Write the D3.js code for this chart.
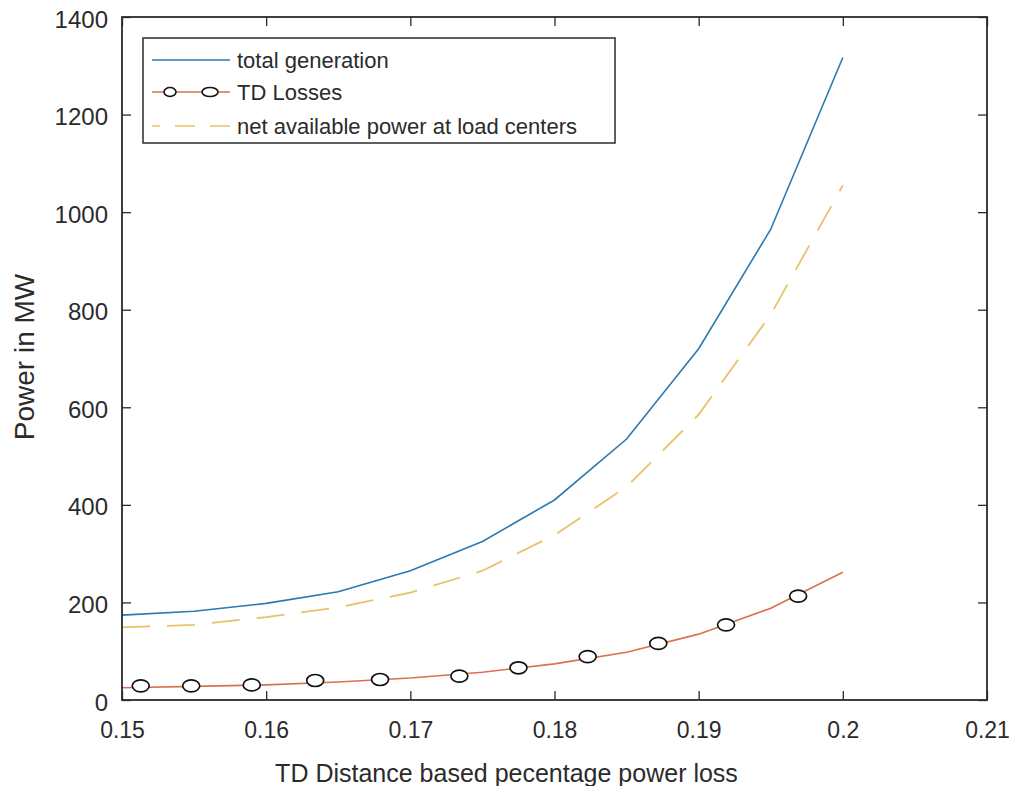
<!DOCTYPE html>
<html>
<head>
<meta charset="utf-8">
<script src="https://cdn.jsdelivr.net/npm/d3@7"></script>
<style>
  body { margin: 0; background: #fff; }
  text { font-family: "Liberation Sans", Arial, sans-serif; fill: #2b2b2b; }
</style>
</head>
<body>
<div id="chart"></div>
<script>
// values
const xValues = [0.15, 0.155, 0.16, 0.165, 0.17, 0.175, 0.18, 0.185, 0.19, 0.195, 0.2];
const totalGeneration = [174, 182, 198, 222, 265, 325, 410, 535, 720, 965, 1317];
const tdLosses = [25, 28, 31, 37, 45, 57, 74, 98, 135, 188, 262];
const netAvailable = [149, 154, 170, 190, 220, 265, 338, 437, 585, 790, 1055];

// the circle markers on the loss curve do not sit on the data x values
const markerX = [0.1513, 0.1548, 0.159, 0.1634, 0.1679, 0.1734, 0.1775, 0.1823, 0.1872, 0.1919, 0.1969];
const markerY = [29, 29, 31, 40, 42, 49, 66, 89, 116, 154, 213];

const xTicks = [0.15, 0.16, 0.17, 0.18, 0.19, 0.2, 0.21];
const yTicks = [0, 200, 400, 600, 800, 1000, 1200, 1400];

const seriesNames = ["total generation", "TD Losses", "net available power at load centers"];

const width = 1016;
const height = 786;
const plot = { left: 122, right: 987, top: 17, bottom: 700 };

const blue = "#2c78b0";
const orange = "#d8714f";
const yellow = "#e8c266";
const axisColor = "#2b2b2b";

const svg = d3.select("#chart")
  .append("svg")
  .attr("width", width)
  .attr("height", height);

////////////// Scales //////////////
const x = d3.scaleLinear().domain([0.15, 0.21]).range([plot.left, plot.right]);
const y = d3.scaleLinear().domain([0, 1400]).range([plot.bottom, plot.top]);

const line = d3.line()
  .x((d, i) => x(xValues[i]))
  .y(d => y(d));

////////////// Curves //////////////
svg.append("path")
  .attr("d", line(totalGeneration))
  .attr("fill", "none")
  .attr("stroke", blue)
  .attr("stroke-width", 1.6);

svg.append("path")
  .attr("d", line(netAvailable))
  .attr("fill", "none")
  .attr("stroke", yellow)
  .attr("stroke-width", 1.8)
  .attr("stroke-dasharray", "28,17");

svg.append("path")
  .attr("d", line(tdLosses))
  .attr("fill", "none")
  .attr("stroke", orange)
  .attr("stroke-width", 1.6);

svg.selectAll(".marker")
  .data(markerX)
  .join("ellipse")
    .attr("class", "marker")
    .attr("cx", d => x(d))
    .attr("cy", (d, i) => y(markerY[i]))
    .attr("rx", 8.5)
    .attr("ry", 6)
    .attr("fill", "#fff")
    .attr("stroke", "#111")
    .attr("stroke-width", 1.7);

////////////// Axes //////////////
const tickLen = 9;

svg.append("g")
  .attr("transform", `translate(0,${plot.bottom})`)
  .call(d3.axisBottom(x).tickValues(xTicks).tickSize(-tickLen).tickPadding(22)
    .tickFormat(d => String(+d.toFixed(2))))
  .call(g => g.select(".domain").remove())
  .call(g => g.selectAll("line").attr("stroke", axisColor).attr("stroke-width", 1.3))
  .call(g => g.selectAll("text").attr("font-size", 23).attr("fill", "#383838"));

svg.append("g")
  .attr("transform", `translate(0,${plot.top})`)
  .call(d3.axisTop(x).tickValues(xTicks).tickSize(-tickLen).tickFormat(""))
  .call(g => g.select(".domain").remove())
  .call(g => g.selectAll("line").attr("stroke", axisColor).attr("stroke-width", 1.3));

svg.append("g")
  .attr("transform", `translate(${plot.left},0)`)
  .call(d3.axisLeft(y).tickValues(yTicks).tickSize(-tickLen).tickPadding(14)
    .tickFormat(d3.format("d")))
  .call(g => g.select(".domain").remove())
  .call(g => g.selectAll("line").attr("stroke", axisColor).attr("stroke-width", 1.3))
  .call(g => g.selectAll("text").attr("font-size", 24).attr("fill", "#383838").attr("dy", "0.42em"));

svg.append("g")
  .attr("transform", `translate(${plot.right},0)`)
  .call(d3.axisRight(y).tickValues(yTicks).tickSize(-tickLen).tickFormat(""))
  .call(g => g.select(".domain").remove())
  .call(g => g.selectAll("line").attr("stroke", axisColor).attr("stroke-width", 1.3));

svg.append("rect")
  .attr("x", plot.left)
  .attr("y", plot.top)
  .attr("width", plot.right - plot.left)
  .attr("height", plot.bottom - plot.top)
  .attr("fill", "none")
  .attr("stroke", axisColor)
  .attr("stroke-width", 1.8);

////////////// Titles //////////////
svg.append("text")
  .attr("x", (plot.left + plot.right) / 2 - 48)
  .attr("y", 782)
  .attr("text-anchor", "middle")
  .attr("font-size", 25)
  .attr("fill", "#383838")
  .text("TD Distance based pecentage power loss");

svg.append("text")
  .attr("transform", `translate(34,357) rotate(-90)`)
  .attr("text-anchor", "middle")
  .attr("font-size", 28)
  .attr("fill", "#383838")
  .text("Power in MW");

////////////// Legend //////////////
const legend = svg.append("g");
legend.append("rect")
  .attr("x", 143).attr("y", 38)
  .attr("width", 472).attr("height", 105)
  .attr("fill", "#fff")
  .attr("stroke", axisColor)
  .attr("stroke-width", 1.5);

const rowY = [60, 92, 126];
const styles = [
  { color: blue, dash: null },
  { color: orange, dash: null },
  { color: yellow, dash: "20,15" }
];

seriesNames.forEach((name, i) => {
  legend.append("line")
    .attr("x1", 152).attr("x2", 230)
    .attr("y1", rowY[i]).attr("y2", rowY[i])
    .attr("stroke", styles[i].color)
    .attr("stroke-width", 1.6)
    .attr("stroke-dasharray", styles[i].dash)
    .attr("stroke-dashoffset", styles[i].dash ? 12 : null);
  legend.append("text")
    .attr("x", 237)
    .attr("y", rowY[i])
    .attr("dy", "0.36em")
    .attr("font-size", 22)
    .attr("fill", "#383838")
    .text(name);
});

[170, 210].forEach((cx, i) => {
  legend.append("ellipse")
    .attr("cx", cx).attr("cy", rowY[1])
    .attr("rx", i === 0 ? 6 : 8).attr("ry", 4.5)
    .attr("fill", "#fff")
    .attr("stroke", "#111")
    .attr("stroke-width", 1.6);
});
</script>
</body>
</html>
